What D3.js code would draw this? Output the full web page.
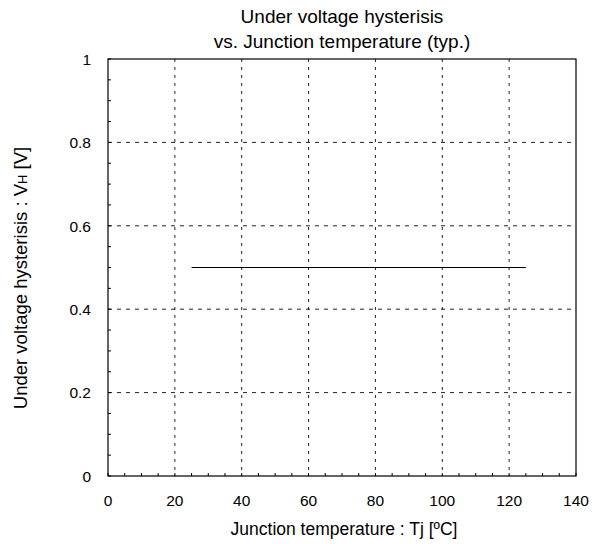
<!DOCTYPE html>
<html><head><meta charset="utf-8">
<script src="https://cdn.jsdelivr.net/npm/d3@7"></script>
<style>body{margin:0;background:#fff}svg{display:block}text{font-family:"Liberation Sans",Arial,sans-serif;fill:#000}</style>
</head><body>
<script>
const temps = [25, 125];
const hysteresis = [0.5, 0.5];
const xTicks = [0, 20, 40, 60, 80, 100, 120, 140];
const yTicks = [0, 0.2, 0.4, 0.6, 0.8, 1];
const yTickLabels = ["0", "0.2", "0.4", "0.6", "0.8", "1"];

const W = 601, H = 544;
const L = 108, R = 576, T = 59, B = 476;
const svg = d3.select("body").append("svg").attr("width", W).attr("height", H);
const x = d3.scaleLinear().domain([0, 140]).range([L, R]);
const y = d3.scaleLinear().domain([0, 1]).range([B, T]);

// grid
svg.append("g").selectAll("line").data(xTicks.slice(1, -1)).join("line")
  .attr("x1", d => x(d)).attr("x2", d => x(d)).attr("y1", T).attr("y2", B)
  .attr("stroke", "#222").attr("stroke-width", 1).attr("stroke-dasharray", "3,5");
svg.append("g").selectAll("line").data(yTicks.slice(1, -1)).join("line")
  .attr("y1", d => y(d)).attr("y2", d => y(d)).attr("x1", L).attr("x2", R)
  .attr("stroke", "#222").attr("stroke-width", 1).attr("stroke-dasharray", "4,5");

// minor ticks
const xMinor = d3.range(0, 141, 5);
const yMinor = d3.range(0, 1.0001, 0.05);
svg.append("g").selectAll("line").data(xMinor).join("line")
  .attr("x1", d => x(d)).attr("x2", d => x(d)).attr("y1", B).attr("y2", B - 3)
  .attr("stroke", "#000");
svg.append("g").selectAll("line").data(yMinor).join("line")
  .attr("y1", d => y(d)).attr("y2", d => y(d)).attr("x1", L).attr("x2", L + 3)
  .attr("stroke", "#000");

// frame
svg.append("rect").attr("x", L).attr("y", T).attr("width", R - L).attr("height", B - T)
  .attr("fill", "none").attr("stroke", "#000").attr("stroke-width", 1.2);

// data line
const line = d3.line().x((d, i) => x(temps[i])).y(d => y(d));
svg.append("path").datum(hysteresis).attr("d", line).attr("fill", "none")
  .attr("stroke", "#000").attr("stroke-width", 1);

// tick labels
svg.append("g").selectAll("text").data(xTicks).join("text")
  .attr("x", d => x(d)).attr("y", 506).attr("text-anchor", "middle")
  .attr("font-size", 15.5).text(d => d);
svg.append("g").selectAll("text").data(yTicks).join("text")
  .attr("x", 91).attr("y", d => y(d) + 5.7).attr("text-anchor", "end")
  .attr("font-size", 15.5).text((d, i) => yTickLabels[i]);

// titles
const title = svg.append("text").attr("text-anchor", "middle").attr("font-size", 19);
title.append("tspan").attr("x", 342).attr("y", 23).text("Under voltage hysterisis");
title.append("tspan").attr("x", 342).attr("y", 48).text("vs. Junction temperature (typ.)");

svg.append("text").attr("x", 344).attr("y", 535).attr("text-anchor", "middle")
  .attr("font-size", 17.5).text("Junction temperature : Tj [ºC]");

const yl = svg.append("text").attr("transform", "translate(27,278) rotate(-90)")
  .attr("text-anchor", "middle").attr("font-size", 18.5);
yl.append("tspan").text("Under voltage hysterisis : V");
yl.append("tspan").attr("font-size", 13).text("H");
yl.append("tspan").text(" [V]");
</script>
</body></html>
